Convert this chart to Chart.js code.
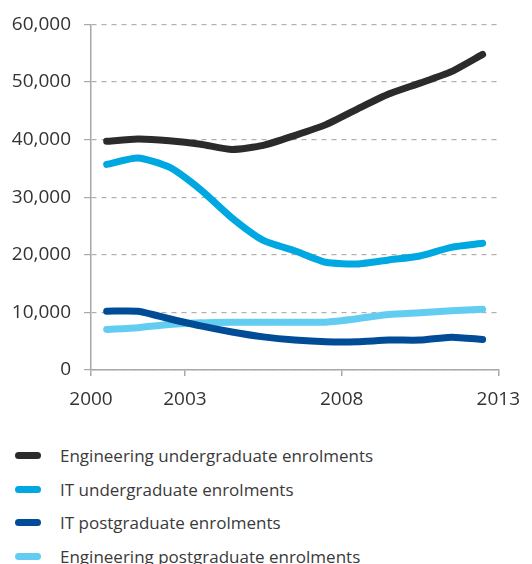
<!DOCTYPE html>
<html>
<head>
<meta charset="utf-8">
<script src="https://cdn.jsdelivr.net/npm/chart.js@4/dist/chart.umd.min.js"></script>
<style>
  html, body { margin: 0; padding: 0; background: #fff; }
  #wrap { position: relative; width: 532px; height: 564px; overflow: hidden; }
  #chartBox { position: absolute; left: 0; top: 0; width: 532px; height: 430px; }
  #legend { position: absolute; left: 15px; top: 439px; font-family: "Open Sans", sans-serif; font-size: 17px; color: #3a3a3a; }
  .item { display: flex; align-items: center; height: 33.5px; }
  .swatch { width: 26px; height: 7px; border-radius: 4px; margin-right: 19px; }
</style>
</head>
<body>
<div id="wrap">
  <div id="chartBox"><canvas id="c" width="532" height="430"></canvas></div>
  <div id="legend"></div>
</div>
<script>
// Enrolments by academic year (mid-year points 2000.5 .. 2012.5)
const years = [2000.5, 2001.5, 2002.5, 2003.5, 2004.5, 2005.5, 2006.5, 2007.5, 2008.5, 2009.5, 2010.5, 2011.5, 2012.5];
const engineeringUG = [39700, 40100, 39800, 39200, 38300, 39000, 40700, 42600, 45300, 47900, 49800, 51800, 54800];
const itUG          = [35700, 36800, 35200, 31300, 26400, 22500, 20700, 18700, 18400, 19100, 19800, 21300, 22000];
const itPG          = [10200, 10200, 8900, 7650, 6600, 5750, 5200, 4900, 4900, 5200, 5200, 5700, 5300];
const engineeringPG = [7050, 7350, 7900, 8200, 8300, 8300, 8300, 8300, 8900, 9650, 9950, 10300, 10550];
const xTickValues = [2000, 2003, 2008, 2013];
const yTickValues = [0, 10000, 20000, 30000, 40000, 50000, 60000];

const seriesNames = [
  'Engineering undergraduate enrolments',
  'IT undergraduate enrolments',
  'IT postgraduate enrolments',
  'Engineering postgraduate enrolments'
];
const seriesColors = ['#2b2b2b', '#00a8e1', '#004c97', '#62cdf0'];
const seriesValues = [engineeringUG, itUG, itPG, engineeringPG];

const datasets = seriesValues.map((vals, i) => ({
  label: seriesNames[i],
  data: vals.map((v, j) => ({ x: years[j], y: v })),
  borderColor: seriesColors[i],
  backgroundColor: seriesColors[i],
  borderWidth: 7,
  borderCapStyle: 'round',
  borderJoinStyle: 'round',
  pointRadius: 0,
  tension: 0.2,
  fill: false
}));

const font = { family: '"Open Sans", sans-serif', size: 19 };

const chart = new Chart(document.getElementById('c'), {
  type: 'line',
  data: { datasets },
  options: {
    responsive: false,
    animation: false,
    layout: { padding: { top: 6, right: 27, left: 0, bottom: 0 } },
    plugins: { legend: { display: false }, tooltip: { enabled: false } },
    scales: {
      x: {
        type: 'linear',
        min: 2000,
        max: 2013,
        afterBuildTicks: s => { s.ticks = xTickValues.map(v => ({ value: v })); },
        afterFit: s => { s.height = 60; },
        ticks: { color: '#333', font, padding: 12, maxRotation: 0, autoSkip: false, callback: v => String(v) },
        grid: { drawOnChartArea: false, drawTicks: true, tickLength: 6, color: '#a8a8a8', lineWidth: 1.5 },
        border: { display: true, color: '#a8a8a8', width: 1.5 }
      },
      y: {
        min: 0,
        max: 60000,
        afterBuildTicks: s => { s.ticks = yTickValues.map(v => ({ value: v })); },
        afterFit: s => { s.width = 91; },
        ticks: { color: '#333', font, padding: 13, callback: v => v.toLocaleString('en-US') },
        grid: { color: '#b0b0b0', lineWidth: 1.2, tickLength: 7, tickColor: '#a8a8a8', tickBorderDash: [] },
        border: { display: true, color: '#a8a8a8', width: 1.5, dash: [5, 5] }
      }
    }
  }
});

// Legend built from the chart's datasets
const legend = document.getElementById('legend');
chart.data.datasets.forEach(ds => {
  const row = document.createElement('div');
  row.className = 'item';
  const sw = document.createElement('span');
  sw.className = 'swatch';
  sw.style.background = ds.borderColor;
  const tx = document.createElement('span');
  tx.textContent = ds.label;
  row.appendChild(sw);
  row.appendChild(tx);
  legend.appendChild(row);
});
</script>
</body>
</html>
